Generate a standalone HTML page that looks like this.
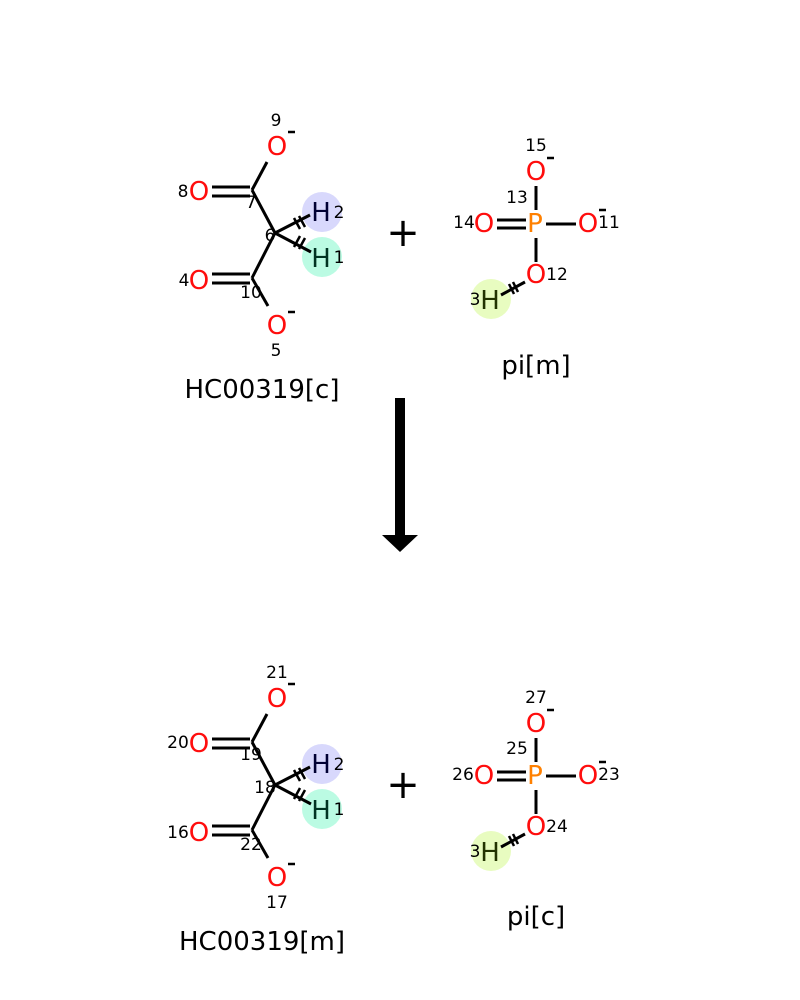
<!DOCTYPE html>
<html><head><meta charset="utf-8"><style>
html,body{margin:0;padding:0;background:#fff;}
svg{display:block;}
text{font-family:"DejaVu Sans","Liberation Sans",sans-serif;dominant-baseline:central;text-anchor:middle;}
.O{fill:#ff0d0d;font-size:26px;}
.P{fill:#ff8000;font-size:26px;}
.n{fill:#000;font-size:17px;}
.H{font-size:26px;}
.L{font-size:26px;fill:#000;}
.plus{font-size:40px;fill:#000;}
line{stroke:#000;stroke-width:3;}
.m{stroke-width:2.5;}
</style></head><body>
<svg width="800" height="1000" viewBox="0 0 800 1000" xmlns="http://www.w3.org/2000/svg">
<defs>
<g id="mal">
  <circle cx="322" cy="212" r="20" fill="#d8d8fc"/>
  <circle cx="322" cy="257" r="20" fill="#bbfbe3"/>
  <line x1="252" y1="190" x2="267" y2="162"/>
  <line x1="212" y1="187" x2="250" y2="187"/>
  <line x1="212" y1="196" x2="250" y2="196"/>
  <line x1="252" y1="190" x2="275" y2="233"/>
  <line x1="275" y1="233" x2="252" y2="278"/>
  <line x1="212" y1="274" x2="250" y2="274"/>
  <line x1="212" y1="283" x2="250" y2="283"/>
  <line x1="252" y1="278" x2="268" y2="306"/>
  <line x1="275" y1="233" x2="310" y2="215"/>
  <line x1="275" y1="233" x2="311" y2="252"/>
  <line x1="294" y1="218" x2="300" y2="229" style="stroke-width:2.5"/>
  <line x1="299" y1="216" x2="305" y2="227" style="stroke-width:2.5"/>
  <line x1="294" y1="247" x2="300" y2="236" style="stroke-width:2.5"/>
  <line x1="299" y1="249" x2="305" y2="238" style="stroke-width:2.5"/>
  <text class="O" x="277" y="147">O</text>
  <text class="O" x="199" y="192">O</text>
  <text class="O" x="199" y="281">O</text>
  <text class="O" x="277" y="326">O</text>
  <line class="m" x1="288" y1="132" x2="295" y2="132"/>
  <line class="m" x1="288" y1="312" x2="295" y2="312"/>
  <text class="H" x="321" y="213" fill="#000033">H</text>
  <text class="n" x="339" y="213" fill="#000033">2</text>
  <text class="H" x="321" y="259" fill="#003322">H</text>
  <text class="n" x="339" y="258" fill="#003322">1</text>
  <text class="plus" x="403" y="233">+</text>
</g>
<g id="pi">
  <circle cx="491" cy="299" r="20" fill="#e8fcc0"/>
  <line x1="536" y1="186" x2="536" y2="210"/>
  <line x1="497" y1="220" x2="526" y2="220"/>
  <line x1="497" y1="228" x2="526" y2="228"/>
  <line x1="546" y1="224" x2="576" y2="224"/>
  <line x1="536" y1="238" x2="536" y2="262"/>
  <line x1="525" y1="282" x2="501" y2="295"/>
  <line x1="509" y1="284" x2="514" y2="294" style="stroke-width:2.5"/>
  <line x1="513" y1="282" x2="518" y2="292" style="stroke-width:2.5"/>
  <text class="O" x="536" y="172">O</text>
  <text class="P" x="535" y="224">P</text>
  <text class="O" x="484" y="224">O</text>
  <text class="O" x="588" y="224">O</text>
  <text class="O" x="536" y="275">O</text>
  <line class="m" x1="547" y1="158" x2="554" y2="158"/>
  <line class="m" x1="599" y1="210" x2="606" y2="210"/>
  <text class="H" x="490" y="301" fill="#223300">H</text>
  <text class="n" x="475" y="300" fill="#223300">3</text>
</g>
</defs>
<use href="#mal"/>
<use href="#pi"/>
<g transform="translate(0,552)"><use href="#mal"/><use href="#pi"/></g>

<text class="n" x="276" y="121">9</text>
<text class="n" x="183" y="192">8</text>
<text class="n" x="251" y="203">7</text>
<text class="n" x="270" y="236">6</text>
<text class="n" x="251" y="293">10</text>
<text class="n" x="184" y="281">4</text>
<text class="n" x="276" y="351">5</text>
<text class="n" x="536" y="146">15</text>
<text class="n" x="517" y="198">13</text>
<text class="n" x="464" y="223">14</text>
<text class="n" x="609" y="223">11</text>
<text class="n" x="557" y="275">12</text>

<text class="n" x="277" y="673">21</text>
<text class="n" x="178" y="743">20</text>
<text class="n" x="251" y="755">19</text>
<text class="n" x="265" y="788">18</text>
<text class="n" x="251" y="845">22</text>
<text class="n" x="178" y="833">16</text>
<text class="n" x="277" y="903">17</text>
<text class="n" x="536" y="698">27</text>
<text class="n" x="517" y="749">25</text>
<text class="n" x="463" y="775">26</text>
<text class="n" x="609" y="775">23</text>
<text class="n" x="557" y="827">24</text>

<text class="L" x="262" y="390">HC00319[c]</text>
<text class="L" x="536" y="366">pi[m]</text>
<text class="L" x="262" y="942">HC00319[m]</text>
<text class="L" x="536" y="917">pi[c]</text>

<rect x="395" y="398" width="10" height="138" fill="#000"/>
<polygon points="382,535 418,535 400,552" fill="#000"/>
</svg>
</body></html>
